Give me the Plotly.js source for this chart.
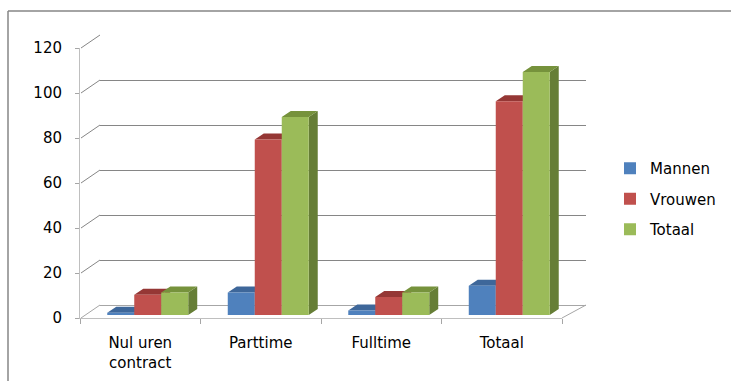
<!DOCTYPE html>
<html>
<head>
<meta charset="utf-8">
<script src="https://cdn.plot.ly/plotly-3.0.1.min.js"></script>
<style>html,body{margin:0;padding:0;background:#fff;}#chart{width:731px;height:381px;}</style>
</head>
<body>
<div id="chart"></div>
<script>
// ---- data ----
const categories = ["Nul uren<br>contract", "Parttime", "Fulltime", "Totaal"];
const seriesNames = ["Mannen", "Vrouwen", "Totaal"];
const mannen = [1, 10, 2, 13];
const vrouwen = [9, 78, 8, 95];
const totaal = [10, 88, 10, 108];
const yTicks = [0, 20, 40, 60, 80, 100, 120];

// ---- styling ----
const W = 731, H = 381;
const xd = px => px / W;
const yd = py => 1 - py / H;
const FONT = "DejaVu Sans, sans-serif";
const frontCol = ["#4F81BD", "#C0504D", "#9BBB59"];
const sideCol = ["#385D8A", "#8C3B39", "#667E36"];
const topCol = ["#3E679A", "#953735", "#76923C"];
const seriesVals = [mannen, vrouwen, totaal];

const barW = 0.224;
const dX = 9 / 120.5;   // depth in x units
const dY = 6 / 2.25;    // depth in y units
const idx = categories.map((c, i) => i);

const traces = [];
// empty trace for back-wall subplot
traces.push({x: [], y: [], type: "scatter", xaxis: "x", yaxis: "y", showlegend: false, hoverinfo: "skip"});
// category labels carrier on the front axes
traces.push({x: categories, y: categories.map(() => null), type: "scatter", mode: "markers",
  xaxis: "x2", yaxis: "y2", showlegend: false, hoverinfo: "skip"});

// 3D side and top faces (beneath front faces)
seriesVals.forEach((vals, k) => {
  const sx = [], sy = [], tx = [], ty = [];
  vals.forEach((v, i) => {
    const x0 = i - 1.5 * barW + k * barW, x1 = x0 + barW;
    sx.push(x1, x1, x1 + dX, x1 + dX, x1, null);
    sy.push(0, v, v + dY, dY, 0, null);
    tx.push(x0, x1, x1 + dX, x0 + dX, x0, null);
    ty.push(v, v, v + dY, v + dY, v, null);
  });
  traces.push({x: sx, y: sy, type: "scatter", mode: "lines", fill: "toself", fillcolor: sideCol[k],
    line: {width: 0}, xaxis: "x3", yaxis: "y3", showlegend: false, hoverinfo: "skip"});
  traces.push({x: tx, y: ty, type: "scatter", mode: "lines", fill: "toself", fillcolor: topCol[k],
    line: {width: 0}, xaxis: "x3", yaxis: "y3", showlegend: false, hoverinfo: "skip"});
});

// front faces as bars
seriesVals.forEach((vals, k) => {
  traces.push({
    type: "bar", name: seriesNames[k], x: idx, y: vals,
    width: barW, offset: -1.5 * barW + k * barW,
    marker: {color: frontCol[k], line: {width: 0}},
    xaxis: "x4", yaxis: "y4", legendgroup: "g" + k
  });
});

// decoration shapes: frame, floor/wall connectors
const frontDom = [yd(318), yd(48)], backDom = [yd(305), yd(35)];
const fy = v => frontDom[0] + v / 120 * (frontDom[1] - frontDom[0]);
const by = v => backDom[0] + v / 120 * (backDom[1] - backDom[0]);
const shapes = [
  {type: "line", xref: "paper", yref: "paper", x0: xd(8), y0: 0, x1: xd(8), y1: yd(11), line: {color: "#868686", width: 1.5}},
  {type: "line", xref: "paper", yref: "paper", x0: xd(8), y0: yd(11), x1: 1, y1: yd(11), line: {color: "#868686", width: 1.5}},
  {type: "line", xref: "paper", yref: "paper", x0: xd(562), y0: fy(0), x1: xd(586), y1: by(0), line: {color: "#A6A6A6", width: 1}}
];
yTicks.forEach(v => {
  shapes.push({type: "line", xref: "paper", yref: "paper", x0: xd(81), y0: fy(v), x1: xd(100), y1: by(v),
    line: {color: v === 0 ? "#A6A6A6" : "#868686", width: 1}, layer: "below"});
});

const hidden = {visible: false, fixedrange: true};
const layout = {
  width: W, height: H,
  margin: {l: 0, r: 0, t: 0, b: 0},
  paper_bgcolor: "#ffffff", plot_bgcolor: "rgba(0,0,0,0)",
  font: {family: FONT, size: 15, color: "#000000"},
  showlegend: true,
  legend: {x: xd(610), xanchor: "left", y: yd(199), yanchor: "middle",
    font: {family: FONT, size: 15, color: "#000000"}, tracegroupgap: 8, bgcolor: "rgba(0,0,0,0)"},
  barmode: "overlay",
  xaxis: {domain: [xd(100), xd(586)], range: [0, 1], showgrid: false, zeroline: false, showticklabels: false,
    ticks: "", showline: false, anchor: "y", fixedrange: true},
  yaxis: {domain: [backDom[0], backDom[1]], range: [0, 120.2], tickvals: yTicks, showgrid: true, gridcolor: "#868686",
    gridwidth: 1, zeroline: true, zerolinecolor: "#A6A6A6", zerolinewidth: 1, showticklabels: false, ticks: "",
    showline: false, anchor: "x", fixedrange: true},
  xaxis2: {type: "category", domain: [xd(80), xd(562)], range: [-0.5, 3.5], tickson: "boundaries",
    ticks: "outside", ticklen: 5, tickcolor: "#A6A6A6", showline: true, linecolor: "#BFBFBF", linewidth: 1,
    showgrid: false, zeroline: false, anchor: "y2", tickfont: {family: FONT, size: 15, color: "#000"},
    ticklabelstandoff: 11, fixedrange: true},
  yaxis2: {domain: [frontDom[0], frontDom[1]], range: [0, 120], tickvals: yTicks, ticks: "outside", ticklen: 4,
    tickcolor: "#A6A6A6", showline: true, linecolor: "#BFBFBF", linewidth: 1, showgrid: false, zeroline: false,
    anchor: "x2", tickfont: {family: FONT, size: 15, color: "#000"}, ticklabelstandoff: 10, fixedrange: true},
  xaxis3: Object.assign({domain: [xd(87.5), xd(569.5)], range: [-0.5, 3.5], anchor: "y3"}, hidden),
  yaxis3: Object.assign({domain: [yd(315), yd(45)], range: [0, 120], anchor: "x3"}, hidden),
  xaxis4: Object.assign({domain: [xd(87.5), xd(569.5)], range: [-0.5, 3.5], anchor: "y4"}, hidden),
  yaxis4: Object.assign({domain: [yd(315), yd(45)], range: [0, 120], anchor: "x4"}, hidden),
  shapes: shapes
};

Plotly.newPlot("chart", traces, layout, {displayModeBar: false, staticPlot: true});
</script>
</body>
</html>
